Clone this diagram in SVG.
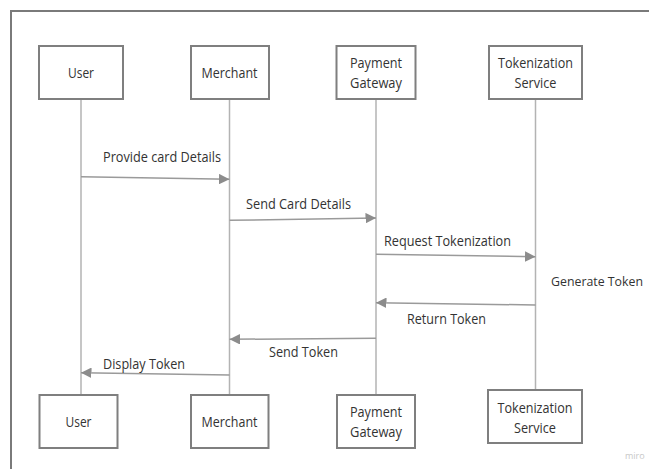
<svg xmlns="http://www.w3.org/2000/svg" width="649" height="469" viewBox="0 0 649 469">
<style>
.box{fill:#fff;stroke:#7f7f7f;stroke-width:2}
.life{stroke:#b3b3b3;stroke-width:1.5;fill:none}
.msg{stroke:#9a9a9a;stroke-width:1.5;fill:none}
.t{font-family:"Open Sans","Noto Sans",sans-serif;font-size:15px;fill:#333}
.c{text-anchor:middle}
</style>
<defs>
<marker id="ah" viewBox="0 0 10 10" refX="10" refY="5" markerWidth="7" markerHeight="7" orient="auto" markerUnits="strokeWidth">
<path d="M0,0 L10,5 L0,10 z" fill="#8c8c8c"/>
</marker>
</defs>
<rect width="649" height="469" fill="#fff"/>
<path d="M11,469 V11 H649" fill="none" stroke="#7a7a7a" stroke-width="2"/>
<g id="lifelines">
<line class="life" x1="81" y1="99" x2="81" y2="395"/>
<line class="life" x1="229.5" y1="99" x2="229.5" y2="395"/>
<line class="life" x1="376" y1="99" x2="376" y2="395"/>
<line class="life" x1="535.5" y1="99" x2="535.5" y2="390"/>
</g>
<g id="connectors">
<line class="msg" x1="81" y1="176.7" x2="229.5" y2="179.3" marker-end="url(#ah)"/>
<line class="msg" x1="229.5" y1="220.3" x2="376" y2="218" marker-end="url(#ah)"/>
<line class="msg" x1="376" y1="254.3" x2="535.5" y2="256.7" marker-end="url(#ah)"/>
<line class="msg" x1="535.5" y1="305" x2="376" y2="302.7" marker-end="url(#ah)"/>
<line class="msg" x1="376" y1="338.3" x2="229.5" y2="339.3" marker-end="url(#ah)"/>
<line class="msg" x1="229.5" y1="375" x2="81" y2="372.7" marker-end="url(#ah)"/>
<text class="t" x="103" y="162" textLength="118" lengthAdjust="spacingAndGlyphs">Provide card Details</text>
<text class="t" x="246" y="209" textLength="105" lengthAdjust="spacingAndGlyphs">Send Card Details</text>
<text class="t" x="384" y="246" textLength="127" lengthAdjust="spacingAndGlyphs">Request Tokenization</text>
<text class="t" x="551" y="286" style="font-size:12.5px" textLength="92" lengthAdjust="spacingAndGlyphs">Generate Token</text>
<text class="t" x="407" y="324" textLength="79" lengthAdjust="spacingAndGlyphs">Return Token</text>
<text class="t" x="269" y="357" textLength="69" lengthAdjust="spacingAndGlyphs">Send Token</text>
<text class="t" x="103" y="369" textLength="82" lengthAdjust="spacingAndGlyphs">Display Token</text>
</g>
<g id="user-top">
<rect class="box" x="39" y="46" width="84" height="53"/>
<text class="t c" x="81" y="78" textLength="26" lengthAdjust="spacingAndGlyphs">User</text>
</g>
<g id="merchant-top">
<rect class="box" x="191" y="46" width="78" height="53"/>
<text class="t c" x="229.5" y="78" textLength="56" lengthAdjust="spacingAndGlyphs">Merchant</text>
</g>
<g id="gateway-top">
<rect class="box" x="336.5" y="46" width="79" height="53"/>
<text class="t c" x="376" y="68" textLength="52" lengthAdjust="spacingAndGlyphs">Payment</text>
<text class="t c" x="376" y="88" textLength="52" lengthAdjust="spacingAndGlyphs">Gateway</text>
</g>
<g id="tokenization-top">
<rect class="box" x="489" y="46" width="93" height="53"/>
<text class="t c" x="535.5" y="68" textLength="75" lengthAdjust="spacingAndGlyphs">Tokenization</text>
<text class="t c" x="535.5" y="88" textLength="42" lengthAdjust="spacingAndGlyphs">Service</text>
</g>
<g id="user-bottom">
<rect class="box" x="39.5" y="395" width="78" height="53"/>
<text class="t c" x="78.5" y="427" textLength="26" lengthAdjust="spacingAndGlyphs">User</text>
</g>
<g id="merchant-bottom">
<rect class="box" x="191" y="395" width="77.5" height="53"/>
<text class="t c" x="229.5" y="427" textLength="56" lengthAdjust="spacingAndGlyphs">Merchant</text>
</g>
<g id="gateway-bottom">
<rect class="box" x="337" y="395" width="78" height="53"/>
<text class="t c" x="376" y="417" textLength="52" lengthAdjust="spacingAndGlyphs">Payment</text>
<text class="t c" x="376" y="437" textLength="52" lengthAdjust="spacingAndGlyphs">Gateway</text>
</g>
<g id="tokenization-bottom">
<rect class="box" x="488" y="390" width="94" height="53"/>
<text class="t c" x="535" y="413" textLength="75" lengthAdjust="spacingAndGlyphs">Tokenization</text>
<text class="t c" x="535" y="433" textLength="42" lengthAdjust="spacingAndGlyphs">Service</text>
</g>
<text x="625" y="459" font-family="'Open Sans',sans-serif" font-size="9" fill="#c8c8c8">miro</text>
</svg>
